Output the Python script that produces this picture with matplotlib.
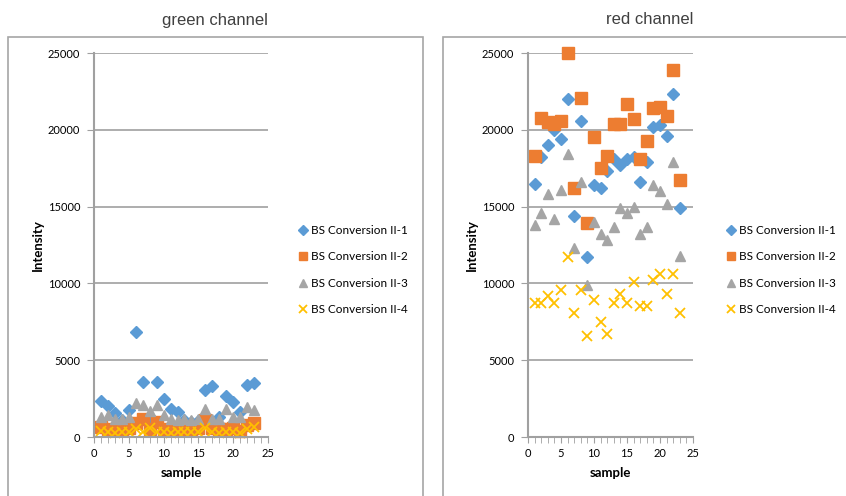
import numpy as np
import matplotlib
matplotlib.use("Agg")
import matplotlib.pyplot as plt
from matplotlib.patches import Rectangle
from matplotlib.ticker import MultipleLocator

plt.rcParams['font.family'] = ['Lato', 'DejaVu Sans']

samples = list(range(1, 24))
series_names = ["BS Conversion II-1", "BS Conversion II-2", "BS Conversion II-3", "BS Conversion II-4"]

# green channel
green_1 = [2350, 2000, 1550, 1100, 1750, 6850, 3600, 1300, 3550, 2500, 1850, 1600,
           1100, 1000, 1050, 3050, 3300, 1300, 2700, 2250, 1600, 3400, 3500]
green_2 = [650, 500, 450, 450, 600, 900, 1200, 500, 1000, 500, 450, 450,
           450, 500, 600, 1100, 600, 500, 500, 600, 400, 800, 900]
green_3 = [1300, 1400, 1150, 1200, 1300, 2200, 2100, 1700, 2100, 1400, 1150, 1100,
           1150, 1100, 1150, 1850, 1150, 1150, 1850, 1300, 1300, 1950, 1750]
green_4 = [400, 300, 250, 300, 350, 500, 300, 600, 300, 350, 250, 300,
           300, 300, 350, 600, 300, 250, 350, 300, 250, 500, 650]

# red channel
red_1 = [16500, 18200, 19000, 20000, 19400, 22000, 14400, 20600, 11700, 16400, 16200, 17300,
         18100, 17700, 18100, 18200, 16600, 17900, 20200, 20300, 19600, 22300, 14900]
red_2 = [18300, 20800, 20500, 20400, 20600, 25000, 16200, 22100, 13900, 19500, 17500, 18300,
         20400, 20400, 21700, 20700, 18100, 19300, 21400, 21500, 20900, 23900, 16700]
red_3 = [13800, 14600, 15800, 14200, 16100, 18400, 12300, 16600, 9900, 14000, 13200, 12800,
         13700, 14900, 14600, 15000, 13200, 13700, 16400, 16000, 15200, 17900, 11800]
red_4 = [8700, 8700, 9200, 8700, 9600, 11700, 8100, 9600, 6600, 8900, 7500, 6700,
         8700, 9300, 8700, 10100, 8500, 8500, 10200, 10600, 9300, 10600, 8100]

colors = ["#5B9BD5", "#ED7D31", "#A5A5A5", "#FFC000"]
markers = ["D", "s", "^", "x"]
sizes = [6.5, 8, 7.5, 7]

W, H = 846, 496
fig = plt.figure(figsize=(W / 100, H / 100), dpi=100)

# chart boxes
fig.patches.append(Rectangle((8 / W, -0.1), 415 / W, (H - 37) / H + 0.1, transform=fig.transFigure,
                             fill=False, edgecolor="#A6A6A6", linewidth=1.2))
fig.patches.append(Rectangle((443 / W, -0.1), 420 / W, (H - 37) / H + 0.1, transform=fig.transFigure,
                             fill=False, edgecolor="#A6A6A6", linewidth=1.2))

panels = [
    ("green channel", [green_1, green_2, green_3, green_4], 94, 174, 215, 302),
    ("red channel", [red_1, red_2, red_3, red_4], 528, 165, 650, 730),
]

for title, data, left, width, title_x, leg_x in panels:
    ax = fig.add_axes([left / W, (H - 437) / H, width / W, 384 / H])
    for vals, c, m, s, name in zip(data, colors, markers, sizes, series_names):
        if m == "x":
            ax.plot(samples, vals, linestyle="none", marker=m, color=c, markersize=s,
                    markeredgewidth=1.3, label=name, clip_on=False)
        else:
            ax.plot(samples, vals, linestyle="none", marker=m, color=c, markersize=s,
                    markeredgecolor=c, label=name, clip_on=False)
    ax.set_xlim(0, 25)
    ax.set_ylim(0, 25000)
    ax.xaxis.set_major_locator(MultipleLocator(5))
    ax.xaxis.set_minor_locator(MultipleLocator(1))
    ax.yaxis.set_major_locator(MultipleLocator(5000))
    ax.grid(axis="y", color="#A0A0A0", linewidth=1.2)
    ax.set_axisbelow(True)
    for side in ["top", "right"]:
        ax.spines[side].set_visible(False)
    for side in ["left", "bottom"]:
        ax.spines[side].set_color("#A0A0A0")
        ax.spines[side].set_linewidth(1.5)
    ax.tick_params(axis="both", which="both", color="#A0A0A0", labelsize=8, labelcolor="#000000")
    ax.tick_params(axis="y", length=5, pad=5)
    ax.tick_params(axis="x", which="both", length=4, pad=4)
    ax.set_xlabel("sample", fontsize=9.5, fontweight="bold", labelpad=6)
    ax.set_ylabel("Intensity", fontsize=9.5, fontweight="bold", labelpad=3)
    fig.text(title_x / W, 1 - 20 / H, title, ha="center", va="center", fontsize=12,
             color="#404040", family=["Liberation Sans", "DejaVu Sans"])
    fig.legend(*ax.get_legend_handles_labels(), loc="center left",
               bbox_to_anchor=(leg_x / W - 0.01, 1 - 270 / H), frameon=False,
               fontsize=8.5, markerscale=0.8, handlelength=0.8, handletextpad=0.3,
               labelspacing=1.3, borderaxespad=0)

fig.savefig("out.png", dpi=100)
